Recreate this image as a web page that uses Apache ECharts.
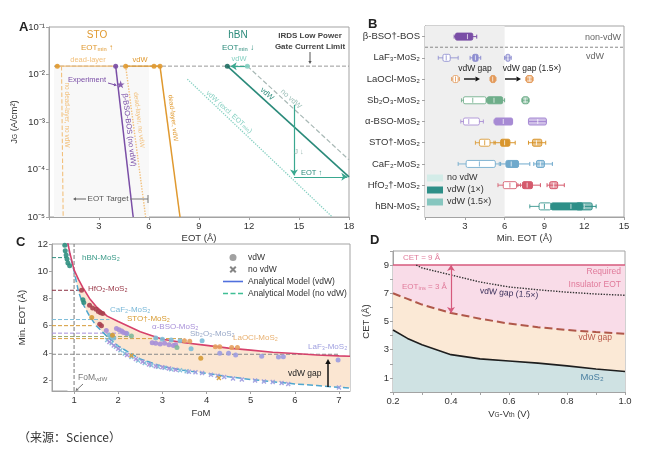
<!DOCTYPE html>
<html lang="zh-CN">
<head>
<meta charset="UTF-8" />
<title>EOT scaling</title>
<script src="https://cdn.jsdelivr.net/npm/echarts@6/dist/echarts.min.js"></script>
<style>
  html, body { margin: 0; padding: 0; background: #fff; }
  #chart { width: 650px; height: 455px; }
</style>
</head>
<body>
<div id="chart"></div>
<script>
// ---------- panel A : gate leakage vs EOT ----------
const aLimit = 0.015;
const aShade = [0.3, 6, 0.015, 1e-5]; // x0, x1, y0, y1
const aLimitLine = [[0.3, 0.015], [18, 0.015]];
const aStoDeadTop = [[0.5, 0.015], [4.0, 0.015]];
const aStoVdwTop = [[4.6, 0.015], [6.66, 0.015]];
const aNoDeadNoVdw = [[0.75, 0.015], [0.85, 1e-5]];
const aBsoNoVdw = [[4.0, 0.015], [5.05, 1e-5]];
const aDeadNoVdw = [[4.6, 0.015], [5.8, 1e-5]];
const aDeadVdw = [[6.66, 0.015], [7.86, 1e-5]];
const aStoMarks = [0.5, 4.6, 6.3, 6.66];
const aBsoMarks = [4.0];
const aHbnMarks = [10.7];
const aHbnNoVdwMarks = [11.9];
const aExperiment = [[4.3, 0.0062]];
const aHbnVdw = [[10.7, 0.015], [18, 7e-5]];
const aHbnNoVdw = [[11.9, 0.015], [18, 1.6e-4]];
const aHbnExcl = [[8.3, 0.008], [17.0, 1e-5]];
const aJDrop = [[14.7, 0.0023], [14.7, 7.5e-5]];
const aEotShift = [[14.7, 7e-5], [17.9, 7e-5]];
const aVdwShift = [[11.9, 0.015], [10.9, 0.015]];

// ---------- panel B : min. EOT per stack (min, q1, median, q3, max) ----------
const bCategories = ['β-BSO†-BOS', 'LaF₃-MoS₂', 'LaOCl-MoS₂', 'Sb₂O₃-MoS₂', 'α-BSO-MoS₂',
  'STO†-MoS₂', 'CaF₂-MoS₂', 'HfO₂†-MoS₂', 'hBN-MoS₂'];
const bNoVdw = [null, [1.0, 1.35, 1.6, 1.9, 2.5], [2.0, 2.1, 2.3, 2.5, 2.6], [2.75, 2.9, 3.6, 4.6, 4.65],
  [2.7, 2.9, 3.3, 4.1, 4.4], [3.8, 4.1, 4.5, 4.9, 5.3], [2.5, 3.1, 4.1, 5.3, 5.6],
  [5.5, 5.9, 6.4, 6.9, 7.2], [7.9, 8.6, 9.0, 9.5, 9.6]];
const bVdw1 = [[2.2, 2.3, 3.2, 3.6, 3.9], [3.4, 3.6, 3.8, 4.0, 4.2], [4.9, 4.95, 5.1, 5.3, 5.35],
  [4.65, 4.7, 5.2, 5.85, 6.0], [5.2, 5.25, 5.9, 6.6, 6.6], [5.2, 5.7, 6.0, 6.4, 6.8],
  [5.7, 6.1, 6.5, 7.05, 7.9], [7.0, 7.35, 7.7, 8.1, 8.7], [9.5, 9.5, 11.0, 11.9, 12.0]];
const bVdw15 = [null, [6.0, 6.1, 6.25, 6.4, 6.5], [7.6, 7.65, 7.9, 8.1, 8.15], [7.3, 7.35, 7.55, 7.8, 7.85],
  [7.8, 7.8, 8.5, 9.15, 9.15], [7.8, 8.1, 8.4, 8.8, 9.1], [8.2, 8.4, 8.7, 9.0, 9.6],
  [9.2, 9.4, 9.7, 10.0, 10.5], [11.4, 11.4, 12.0, 12.6, 12.9]];
const bShadeMax = 6;

// ---------- panel C : min. EOT vs FoM ----------
const cModelX = [0.85, 0.9, 1, 1.1, 1.2, 1.35, 1.5, 1.75, 2, 2.5, 3, 3.5, 4, 4.5, 5, 5.5, 6, 6.5, 7, 7.25];
const cModelVdw = [12.2, 11.4, 10.1, 9.4, 8.8, 8.0, 7.4, 6.7, 6.3, 5.55, 5.0, 4.75, 4.55, 4.35, 4.2, 4.05, 3.95, 3.85, 3.78, 3.75];
const cModelNoVdw = [12.2, 11.3, 10.0, 8.5, 7.6, 6.7, 6.0, 5.2, 4.5, 3.55, 3.0, 2.7, 2.5, 2.25, 2.05, 1.88, 1.72, 1.6, 1.47, 1.42];
const cFomVdw = 1;
const cRefLevels = [11.0, 8.6, 6.45, 6.0, 5.45, 5.2, 5.05, 3.9];
const cRefEnds = [0.82, 1.17, 1.8, 1.4, 2.2, 2.3, 3.5, 7.0];
const cHbnVdw = [[0.79, 11.9], [0.8, 11.5], [0.82, 11.2], [0.84, 10.9], [0.86, 10.6], [0.9, 10.4], [1.2, 7.9], [1.22, 7.7]];
const cHfo2Vdw = [[1.17, 8.6], [1.35, 7.5], [1.42, 7.3], [1.5, 7.2], [1.55, 7.05], [1.6, 6.95], [1.65, 6.9], [1.62, 6.0], [1.58, 6.1]];
const cCaf2Vdw = [[1.8, 5.3], [1.85, 5.2], [1.9, 5.1], [2.2, 5.4], [2.85, 5.1], [3.0, 5.0], [3.2, 4.95], [3.4, 4.9], [3.65, 4.3], [3.9, 4.9]];
const cStoVdw = [[1.4, 6.6], [1.87, 5.3], [3.87, 3.6]];
const cAbsoVdw = [[1.73, 5.65], [1.96, 5.8], [2.02, 5.7], [2.08, 5.6], [2.12, 5.5], [2.18, 5.45], [2.77, 4.75],
  [2.85, 4.7], [2.95, 4.65], [3.05, 4.7], [3.15, 4.6], [3.25, 4.55], [3.3, 4.6]];
const cSbVdw = [[3.33, 4.4], [2.3, 5.25]];
const cLaoclVdw = [[3.5, 4.9], [3.62, 4.85], [4.2, 4.45], [4.3, 4.45], [4.57, 4.4], [4.7, 4.4]];
const cLaf3Vdw = [[4.3, 3.98], [4.5, 3.98], [4.66, 3.85], [5.25, 3.76], [5.63, 3.7], [5.74, 3.72], [6.98, 3.47]];
const cNoVdwBlue = [[1.75, 4.95], [1.85, 4.7], [1.95, 4.45], [2.05, 4.2], [2.15, 3.95], [2.3, 3.7], [2.45, 3.45],
  [2.6, 3.25], [2.75, 3.1], [2.9, 2.98], [3.05, 2.9], [3.2, 2.8], [3.4, 2.72], [3.55, 2.66]];
const cNoVdwPurple = [[1.8, 4.8], [1.9, 4.55], [2.0, 4.3], [2.2, 3.85], [2.4, 3.55], [2.55, 3.35], [2.7, 3.15],
  [2.85, 3.02], [3.0, 2.95], [3.15, 2.85], [3.3, 2.76]];
const cNoVdwLavender = [[3.6, 2.62], [3.75, 2.57], [3.9, 2.52], [4.1, 2.4], [4.25, 2.32], [4.4, 2.22], [4.6, 2.12],
  [4.8, 2.05], [5.1, 1.98], [5.3, 1.9], [5.5, 1.86], [5.7, 1.78], [5.85, 1.72], [7.0, 1.45]];
const cNoVdwOrange = [[2.3, 3.8], [4.28, 2.15]];

// ---------- panel D : CET vs gate overdrive ----------
const dX = [0.2, 0.25, 0.3, 0.35, 0.4, 0.5, 0.6, 0.7, 0.8, 0.9, 1.0];
const dMos2 = [4.4, 3.8, 3.35, 3.0, 2.65, 2.35, 2.2, 2.05, 1.85, 1.63, 1.45];
const dGap = [7.0, 6.6, 6.2, 5.9, 5.6, 5.2, 4.85, 4.6, 4.4, 4.25, 4.12];
const dGap15X = [0.28, 0.3, 0.4, 0.5, 0.6, 0.7, 0.8, 0.9, 1.0];
const dGap15 = [9.0, 8.8, 8.3, 7.8, 7.45, 7.25, 7.08, 6.95, 6.86];
const dCet = [[0.2, 9], [1.0, 9]];
const dInsArrow = [[0.4, 9], [0.4, 5.6]];

// ---------- styling ----------
const FONT = '"Liberation Sans", Arial, Helvetica, sans-serif';
const AX = '#a3a3a3';
const TXT = '#333';
const ORANGE = '#e0992f', LORANGE = '#f2c07c', PURPLE = '#7a4ea6';
const TEAL = '#2a8a7a', LTEAL = '#86d0c2';
const SHADE = '#efefef';
const SHADE_A = '#f8f8f8'; // panel A renders this block darker than panel B, so start lighter
const bRowColors = ['#7a4ea6', '#8e8ed0', '#e39a5a', '#6fae8a', '#a78bd4', '#d9962e', '#6fa9cc', '#d55a6c', '#2e8f88'];
const cColors = { hbn: '#2f8f7f', hfo2: '#a8404f', caf2: '#7cbcd8', sto: '#d59a35', abso: '#a68ed8',
  sb: '#7fb89a', laocl: '#e6a060', laf3: '#9c9ce0' };
const cRefColors = ['#2f8f7f', '#8a3040', '#7cbcd8', '#d59a35', '#a68ed8', '#9aaa6a', '#d9a040', '#888'];
const X_PATH = 'path://M2,0L5,3L8,0L10,2L7,5L10,8L8,10L5,7L2,10L0,8L3,5L0,2Z';
const STAR = 'path://M5,0L6.2,3.6L10,3.6L6.9,5.8L8.1,9.5L5,7.2L1.9,9.5L3.1,5.8L0,3.6L3.8,3.6Z';
const LINE_ICON = 'path://M0,0L20,0L20,1.6L0,1.6Z';
const DASH_ICON = 'path://M0,0h5v1.6h-5zM7.5,0h5v1.6h-5zM15,0h5v1.6h-5z';

const SUPS = { '-': '⁻', '0': '⁰', '1': '¹', '2': '²', '3': '³', '4': '⁴', '5': '⁵', '6': '⁶', '7': '⁷', '8': '⁸', '9': '⁹' };
const sup = n => String(n).split('').map(c => SUPS[c]).join('');

function hexA(hex, a) {
  const n = parseInt(hex.slice(1), 16);
  return `rgba(${n >> 16},${(n >> 8) & 255},${n & 255},${a})`;
}

function axis(gi, o) {
  const base = {
    gridIndex: gi, type: 'value',
    axisLine: { show: true, lineStyle: { color: AX } },
    axisTick: { show: true, length: 3, lineStyle: { color: AX } },
    splitLine: { show: false },
    nameLocation: 'middle',
    nameTextStyle: { fontSize: 9.5, color: TXT, fontFamily: FONT,
      rich: { s: { fontSize: 6.5, color: TXT, fontFamily: FONT, verticalAlign: 'bottom' } } }
  };
  const out = Object.assign({}, base, o);
  out.axisLabel = Object.assign({ fontSize: 9.5, color: TXT, fontFamily: FONT, margin: 4 }, o.axisLabel || {});
  return out;
}

function seg(gi, data, color, o = {}) {
  const s = {
    type: 'line', xAxisIndex: gi, yAxisIndex: gi, data, symbol: 'none', silent: true,
    animation: false, z: o.z || 3, name: o.name,
    lineStyle: { color, width: o.w || 1.2, type: o.type || 'solid', opacity: o.lineOpacity == null ? 1 : o.lineOpacity }
  };
  if (o.area) s.areaStyle = o.area;
  if (o.markLine) s.markLine = o.markLine;
  if (o.markArea) s.markArea = o.markArea;
  if (!o.name) delete s.name;
  return s;
}

function arrowLines(lines, color, sym) {
  return {
    silent: true, animation: false, symbol: sym || ['none', 'arrow'], symbolSize: 6,
    label: { show: false }, lineStyle: { color, type: 'solid', width: 1.2 },
    data: lines.map(l => [{ coord: l[0] }, { coord: l[1] }])
  };
}

function dots(gi, data, color, o = {}) {
  return {
    type: 'scatter', xAxisIndex: gi, yAxisIndex: gi, data, silent: true, animation: false,
    symbol: o.symbol || 'circle', symbolSize: o.size || 4.5, z: o.z || 5,
    itemStyle: { color, opacity: o.opacity || 0.9 }
  };
}

// box renderer for panel B
function renderBox(kind) {
  return function (params, api) {
    const row = api.value(0);
    const c = bRowColors[row];
    const p = [1, 2, 3, 4, 5].map(k => api.coord([api.value(k), row]));
    const y = p[0][1], h = 7;
    let fill = '#fff', stroke = hexA(c, 0.85), med = hexA(c, 0.85);
    if (kind === 1) { fill = c; stroke = c; med = 'rgba(255,255,255,0.7)'; }
    if (kind === 2) { fill = hexA(c, 0.55); stroke = c; med = 'rgba(255,255,255,0.8)'; }
    return {
      type: 'group', children: [
        { type: 'line', shape: { x1: p[0][0], y1: y, x2: p[4][0], y2: y }, style: { stroke, lineWidth: 1 } },
        { type: 'line', shape: { x1: p[0][0], y1: y - 2, x2: p[0][0], y2: y + 2 }, style: { stroke, lineWidth: 1 } },
        { type: 'line', shape: { x1: p[4][0], y1: y - 2, x2: p[4][0], y2: y + 2 }, style: { stroke, lineWidth: 1 } },
        { type: 'rect', shape: { x: p[1][0], y: y - h / 2, width: Math.max(p[3][0] - p[1][0], 2), height: h, r: 1.5 },
          style: { fill, stroke, lineWidth: 1 } },
        { type: 'line', shape: { x1: p[2][0], y1: y - h / 2 + 1, x2: p[2][0], y2: y + h / 2 - 1 }, style: { stroke: med, lineWidth: 1 } }
      ]
    };
  };
}
const boxData = arr => arr.map((v, i) => v ? [i].concat(v) : null).filter(Boolean);

// text / arrow annotations
function label(x, y, text, o = {}) {
  const size = o.size || 8.5, color = o.color || TXT;
  return {
    type: 'text', x, y, rotation: o.rot || 0, silent: true, z: 100,
    style: {
      text, fill: color, fontFamily: o.family || FONT, fontSize: size,
      fontWeight: o.bold ? 'bold' : 'normal', align: o.align || 'left', verticalAlign: 'middle',
      rich: { s: { fontSize: size * 0.72, fill: color, fontFamily: FONT, verticalAlign: 'bottom' } }
    }
  };
}
function arrow(x1, y1, x2, y2, color, o = {}) {
  const a = Math.atan2(y2 - y1, x2 - x1), h = o.head || 4, w = h * 0.55;
  const bx = x2 - h * Math.cos(a), by = y2 - h * Math.sin(a);
  return [
    { type: 'line', silent: true, z: 100, shape: { x1, y1, x2: bx, y2: by }, style: { stroke: color, lineWidth: o.lw || 1 } },
    { type: 'polygon', silent: true, z: 100,
      shape: { points: [[x2, y2], [bx + w * Math.sin(a), by - w * Math.cos(a)], [bx - w * Math.sin(a), by + w * Math.cos(a)]] },
      style: { fill: color } }
  ];
}
function rule(x1, y1, x2, y2, color) {
  return { type: 'line', silent: true, z: 100, shape: { x1, y1, x2, y2 }, style: { stroke: color, lineWidth: 1 } };
}

const ROT = -1.45, DIAG = -0.74;
const graphics = [
  // A
  label(19, 27, 'A', { size: 13, bold: true, color: '#222' }),
  label(97, 35, 'STO', { size: 10, color: ORANGE, align: 'center' }),
  label(97, 48, 'EOT{s|min} ↑', { size: 8, color: ORANGE, align: 'center' }),
  label(88, 60, 'dead-layer', { size: 7.5, color: LORANGE, align: 'center' }),
  label(140, 60, 'vdW', { size: 7.5, color: ORANGE, align: 'center' }),
  label(87, 80, 'Experiment', { size: 7.5, color: PURPLE, align: 'center' }),
  ...arrow(108, 83, 117, 85.5, PURPLE, { head: 3 }),
  label(67, 115, 'no dead-layer, no vdW', { size: 6.5, color: LORANGE, align: 'center', rot: -Math.PI / 2 }),
  label(129, 130, 'β-BSO-BOS (no vdW)', { size: 7.5, color: PURPLE, align: 'center', rot: ROT }),
  label(139, 120, 'dead-layer, no vdW', { size: 6.5, color: LORANGE, align: 'center', rot: ROT }),
  label(173, 118, 'dead-layer, vdW', { size: 6.5, color: ORANGE, align: 'center', rot: ROT }),
  label(108, 199, 'EOT Target', { size: 8, color: '#555', align: 'center' }),
  ...arrow(86, 199, 73, 199, '#666', { head: 3 }),
  rule(130, 199, 148, 199, '#777'), rule(148, 195, 148, 203, '#777'),
  label(238, 35, 'hBN', { size: 10, color: TEAL, align: 'center' }),
  label(238, 48, 'EOT{s|min} ↓', { size: 8, color: TEAL, align: 'center' }),
  label(239, 59, 'vdW', { size: 7.5, color: LTEAL, align: 'center' }),
  label(310, 36, 'IRDS Low Power', { size: 8, color: '#444', align: 'center', bold: true }),
  label(310, 47, 'Gate Current Limit', { size: 8, color: '#444', align: 'center', bold: true }),
  ...arrow(310, 52, 310, 64, '#555', { head: 3 }),
  label(267, 94, 'vdW', { size: 7.5, color: TEAL, align: 'center', rot: DIAG }),
  label(291, 99, 'no vdW', { size: 7.5, color: '#9cbfb8', align: 'center', rot: DIAG }),
  label(229, 112, 'vdW (excl. EOT{s|min})', { size: 7, color: LTEAL, align: 'center', rot: DIAG }),
  label(299, 152, 'J ↓', { size: 7.5, color: '#9ab8b2', align: 'center' }),
  label(301, 173, 'EOT ↑', { size: 7.5, color: TEAL }),
  // B
  label(368, 24, 'B', { size: 13, bold: true, color: '#222' }),
  label(621, 38, 'non-vdW', { size: 9, color: '#666', align: 'right' }),
  label(604, 57, 'vdW', { size: 9, color: '#666', align: 'right' }),
  label(475, 69, 'vdW gap', { size: 8.5, color: '#222', align: 'center' }),
  label(532, 69, 'vdW gap (1.5×)', { size: 8.5, color: '#222', align: 'center' }),
  ...arrow(464, 79, 480, 79, '#111', { head: 4.5, lw: 1.4 }),
  ...arrow(505, 79, 521, 79, '#111', { head: 4.5, lw: 1.4 }),
  { type: 'rect', silent: true, z: 100, shape: { x: 427, y: 174.5, width: 16, height: 7 }, style: { fill: '#d3ece8' } },
  { type: 'rect', silent: true, z: 100, shape: { x: 427, y: 186.5, width: 16, height: 7 }, style: { fill: '#2e8f88' } },
  { type: 'rect', silent: true, z: 100, shape: { x: 427, y: 198.5, width: 16, height: 7 }, style: { fill: '#86c6bf' } },
  label(447, 178, 'no vdW', { size: 9 }),
  label(447, 190, 'vdW (1×)', { size: 9 }),
  label(447, 202, 'vdW (1.5×)', { size: 9 }),
  // C
  label(16, 242, 'C', { size: 13, bold: true, color: '#222' }),
  label(82, 258, 'hBN-MoS₂', { size: 8, color: '#3a9a88' }),
  label(88, 289, 'HfO₂-MoS₂', { size: 8, color: '#9a3a4a' }),
  label(110, 310, 'CaF₂-MoS₂', { size: 8, color: '#7ab8d8' }),
  label(127, 319, 'STO†-MoS₂', { size: 8, color: '#d79a30' }),
  label(152, 327, 'α-BSO-MoS₂', { size: 8, color: '#a890d8' }),
  label(190, 334, 'Sb₂O₃-MoS₂', { size: 8, color: '#98a8c8' }),
  label(233, 338, 'LaOCl-MoS₂', { size: 8, color: '#e8b070' }),
  label(308, 347, 'LaF₃-MoS₂', { size: 8, color: '#a0a0e0' }),
  label(78, 378, 'FoM{s|vdW}', { size: 8.5, color: '#777' }),
  ...arrow(83, 384, 75.5, 391, '#777', { head: 3 }),
  label(288, 374, 'vdW gap', { size: 8.5, color: '#222' }),
  ...arrow(328, 387, 328, 359, '#111', { head: 5, lw: 1.5 }),
  // D
  label(370, 240, 'D', { size: 13, bold: true, color: '#222' }),
  label(403, 258, 'CET = 9 Å', { size: 8, color: '#e07a9a' }),
  label(402, 287, 'EOT{s|ins} = 3 Å', { size: 8, color: '#e07a9a' }),
  label(480, 291, 'vdW gap (1.5×)', { size: 8.5, color: '#3a2f5a', rot: -0.08 }),
  label(621, 272, 'Required', { size: 8.5, color: '#e07a9a', align: 'right' }),
  label(621, 285, 'Insulator EOT', { size: 8.5, color: '#e07a9a', align: 'right' }),
  label(612, 338, 'vdW gap', { size: 8.5, color: '#b8584a', align: 'right' }),
  label(592, 377, 'MoS₂', { size: 9.5, color: '#4a7fa0', align: 'center' }),
  // caption
  label(18, 437, '（来源：Science）', { size: 12, color: '#333', family: '"Noto Sans CJK SC", sans-serif' })
];

// ---------- series ----------
const series = [];
// A
series.push({
  type: 'custom', xAxisIndex: 0, yAxisIndex: 0, silent: true, animation: false, z: 1,
  data: [aShade], encode: { x: [0, 1], y: [2, 3] },
  renderItem(params, api) {
    const p0 = api.coord([api.value(0), api.value(2)]);
    const p1 = api.coord([api.value(1), api.value(3)]);
    return { type: 'rect', shape: { x: p0[0], y: p0[1], width: p1[0] - p0[0], height: p1[1] - p0[1] },
      style: { fill: SHADE_A } };
  }
});
series.push(seg(0, aLimitLine, '#9a9a9a', { type: 'dashed', w: 1, z: 2 }));
series.push(seg(0, aStoDeadTop, LORANGE, { w: 1.4 }));
series.push(seg(0, aStoVdwTop, ORANGE, { w: 1.4 }));
series.push(seg(0, aNoDeadNoVdw, LORANGE, { type: 'dashed', w: 1.1 }));
series.push(seg(0, aBsoNoVdw, PURPLE, { w: 1.5 }));
series.push(seg(0, aDeadNoVdw, LORANGE, { type: 'dotted', w: 1.4 }));
series.push(seg(0, aDeadVdw, ORANGE, { w: 1.5 }));
series.push(seg(0, aHbnExcl, LTEAL, { type: 'dotted', w: 1.3 }));
series.push(seg(0, aHbnNoVdw, '#a8b8b5', { type: 'dashed', w: 1.2 }));
series.push(seg(0, aHbnVdw, TEAL, { w: 1.6,
  markLine: arrowLines([aJDrop, aEotShift, aVdwShift], '#3aa890') }));
series.push(dots(0, aStoMarks.map(x => [x, aLimit]), ORANGE, { size: 5 }));
series.push(dots(0, aBsoMarks.map(x => [x, aLimit]), PURPLE, { size: 5 }));
series.push(dots(0, aHbnMarks.map(x => [x, aLimit]), '#1f6e62', { size: 5 }));
series.push(dots(0, aHbnNoVdwMarks.map(x => [x, aLimit]), LTEAL, { size: 5 }));
series.push(dots(0, aExperiment, PURPLE, { symbol: STAR, size: 8 }));

// B
series.push({
  type: 'custom', xAxisIndex: 1, yAxisIndex: 1, silent: true, animation: false, z: 1,
  data: [[0, 0]], encode: { x: 1, y: 0 },
  renderItem(params, api) {
    const cs = params.coordSys;
    const y = api.coord([0, 0])[1] + api.size([0, 1])[1] / 2;
    return { type: 'line', shape: { x1: cs.x, y1: y, x2: cs.x + cs.width, y2: y },
      style: { stroke: '#888', lineWidth: 1, lineDash: [3, 2] } };
  },
  markArea: { silent: true, itemStyle: { color: SHADE, opacity: 1 }, data: [[{ xAxis: 0 }, { xAxis: bShadeMax }]] }
});
[[bNoVdw, 0], [bVdw1, 1], [bVdw15, 2]].forEach(([arr, kind]) => {
  series.push({
    type: 'custom', xAxisIndex: 1, yAxisIndex: 1, silent: true, animation: false, z: 3,
    data: boxData(arr), encode: { x: [1, 2, 3, 4, 5], y: 0 }, renderItem: renderBox(kind)
  });
});

// C
const cRed = cModelX.map((x, i) => [x, cModelVdw[i]]);
const cBlue = cModelX.map((x, i) => [x, cModelNoVdw[i]]);
series.push(seg(2, cRed.filter(p => p[0] >= cFomVdw), '#fbe4cc', { z: 1, lineOpacity: 0, area: { color: '#fbe6d2', opacity: 1 } }));
series.push(seg(2, cBlue, '#fff', { z: 1, lineOpacity: 0, area: { color: '#ffffff', opacity: 1 } }));
cRefLevels.forEach((v, i) => {
  series.push(seg(2, [[0.5, v], [cRefEnds[i], v]], cRefColors[i], { type: 'dashed', w: 1, z: 3 }));
});
series.push(seg(2, [[cFomVdw, 1.2], [cFomVdw, 12]], '#777', { type: 'dashed', w: 1, z: 3 }));
series.push(seg(2, cBlue, '#4fa7cf', { type: 'dashed', w: 1.5, z: 4, name: 'Analytical Model (no vdW)' }));
series.push(seg(2, cRed, '#d6416b', { w: 1.6, z: 4, name: 'Analytical Model (vdW)' }));
[[cNoVdwBlue, cColors.caf2], [cNoVdwPurple, cColors.abso], [cNoVdwLavender, cColors.laf3], [cNoVdwOrange, cColors.sto]]
  .forEach(([d, c]) => series.push(dots(2, d, c, { symbol: X_PATH, size: 5 })));
[[cHbnVdw, cColors.hbn], [cHfo2Vdw, cColors.hfo2], [cCaf2Vdw, cColors.caf2], [cStoVdw, cColors.sto],
  [cAbsoVdw, cColors.abso], [cSbVdw, cColors.sb], [cLaoclVdw, cColors.laocl], [cLaf3Vdw, cColors.laf3]]
  .forEach(([d, c]) => series.push(dots(2, d, c, { size: 5 })));
series.push({ type: 'scatter', name: 'vdW', xAxisIndex: 2, yAxisIndex: 2, data: [], itemStyle: { color: '#8a8a8a' } });
series.push({ type: 'scatter', name: 'no vdW', xAxisIndex: 2, yAxisIndex: 2, data: [], itemStyle: { color: '#666' } });

// D
series.push(seg(3, dCet, '#fff', { z: 1, lineOpacity: 0, area: { color: '#f9dce8', opacity: 1 } }));
series.push(seg(3, dX.map((x, i) => [x, dGap[i]]), '#fff', { z: 1, lineOpacity: 0, area: { color: '#fbe9d6', opacity: 1 } }));
series.push(seg(3, dX.map((x, i) => [x, dMos2[i]]), '#fff', { z: 1, lineOpacity: 0, area: { color: '#cfe2e3', opacity: 1 } }));
series.push(seg(3, dCet, '#d65a7c', { w: 1.5, z: 4, markLine: arrowLines([dInsArrow], '#d65a7c', ['arrow', 'arrow']) }));
series.push(seg(3, dGap15X.map((x, i) => [x, dGap15[i]]), '#333', { type: 'dotted', w: 1.4, z: 4 }));
series.push(seg(3, dX.map((x, i) => [x, dGap[i]]), '#b0584a', { type: 'dashed', w: 2, z: 4 }));
series.push(seg(3, dX.map((x, i) => [x, dMos2[i]]), '#1e1e1e', { w: 1.6, z: 4 }));

// ---------- option ----------
const gridBox = { show: true, borderColor: AX, borderWidth: 1, backgroundColor: 'transparent' };
const option = {
  animation: false,
  textStyle: { fontFamily: FONT },
  grid: [
    Object.assign({ left: 49, top: 27, width: 300, height: 190 }, gridBox),
    Object.assign({ left: 425, top: 26, width: 199, height: 191 }, gridBox),
    Object.assign({ left: 52, top: 244, width: 298, height: 147 }, gridBox),
    Object.assign({ left: 393, top: 251, width: 232, height: 141 }, gridBox)
  ],
  xAxis: [
    axis(0, { min: 0, max: 18, interval: 3, name: 'EOT (Å)', nameGap: 16,
      axisLabel: { formatter: v => v === 0 ? '' : v } }),
    axis(1, { min: 0, max: 15, interval: 3, name: 'Min. EOT (Å)', nameGap: 16,
      axisLabel: { formatter: v => v === 0 ? '' : v } }),
    axis(2, { min: 0.5, max: 7.25, name: 'FoM', nameGap: 17,
      axisLabel: { customValues: [1, 2, 3, 4, 5, 6, 7] },
      axisTick: { show: true, length: 3, lineStyle: { color: AX }, customValues: [1, 2, 3, 4, 5, 6, 7] } }),
    axis(3, { min: 0.2, max: 1.0, interval: 0.1, name: 'V{s|G}-V{s|th} (V)', nameGap: 17,
      axisLabel: { formatter: v => Math.round(v * 10) % 2 === 0 ? v.toFixed(1) : '' } })
  ],
  yAxis: [
    axis(0, { type: 'log', logBase: 10, min: 1e-5, max: 1e-1, name: 'J{s|G} (A/cm²)', nameGap: 30,
      axisLabel: { formatter: v => '10' + sup(Math.round(Math.log10(v))) } }),
    {
      gridIndex: 1, type: 'category', data: bCategories, inverse: true,
      axisLine: { show: true, lineStyle: { color: AX } },
      axisTick: { show: true, length: 3, alignWithLabel: true, lineStyle: { color: AX } },
      axisLabel: { fontSize: 9.5, color: TXT, fontFamily: FONT, margin: 5 },
      splitLine: { show: false }
    },
    axis(2, { min: 1.2, max: 12, name: 'Min. EOT (Å)', nameGap: 25,
      axisLabel: { customValues: [2, 4, 6, 8, 10, 12] },
      axisTick: { show: true, length: 3, lineStyle: { color: AX }, customValues: [2, 4, 6, 8, 10, 12] } }),
    axis(3, { min: 0, max: 10, interval: 1, name: 'CET (Å)', nameGap: 22,
      axisLabel: { formatter: v => v % 2 === 1 ? v : '' } })
  ],
  legend: [{
    left: 218, top: 248, orient: 'vertical', itemWidth: 20, itemHeight: 7, itemGap: 3,
    selectedMode: false, textStyle: { fontSize: 8.5, color: TXT, fontFamily: FONT },
    data: [{ name: 'vdW', icon: 'circle' }, { name: 'no vdW', icon: X_PATH },
      { name: 'Analytical Model (vdW)', icon: LINE_ICON },
      { name: 'Analytical Model (no vdW)', icon: DASH_ICON }]
  }],
  series,
  graphic: graphics
};

const chart = echarts.init(document.getElementById('chart'));
chart.setOption(option);
</script>
</body>
</html>
